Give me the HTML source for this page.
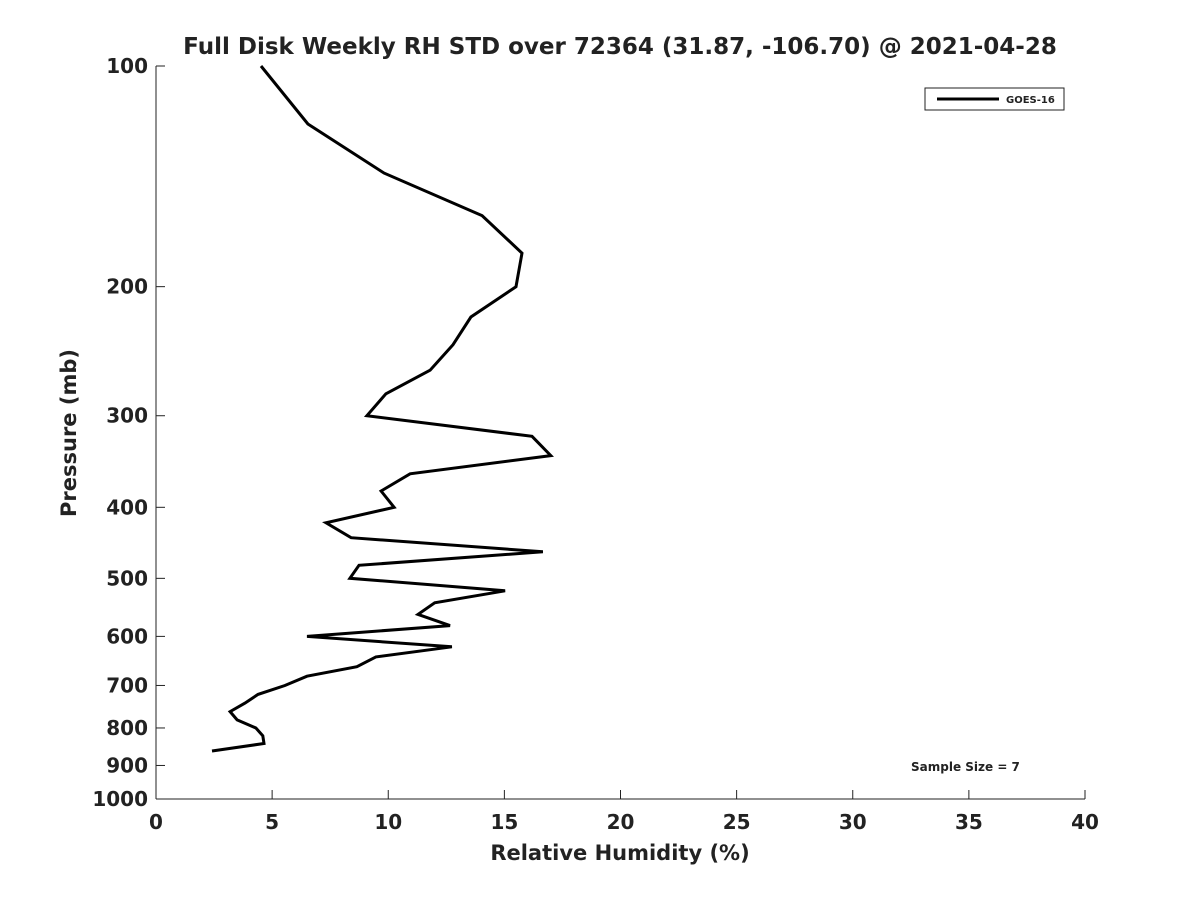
<!DOCTYPE html>
<html><head><meta charset="utf-8"><style>
html,body{margin:0;padding:0;background:#fff;}
svg text{font-family:"DejaVu Sans","Liberation Sans",sans-serif;font-weight:bold;fill:#222;}
</style></head><body>
<svg id="chart" width="1200" height="900" xmlns="http://www.w3.org/2000/svg">
<rect width="1200" height="900" fill="#fff"/>
<text x="620" y="54" text-anchor="middle" font-size="23" fill="#000">Full Disk Weekly RH STD over 72364 (31.87, -106.70) @ 2021-04-28</text>
<g id="axes"></g>
<text x="620" y="860" text-anchor="middle" font-size="21">Relative Humidity (%)</text>
<text transform="translate(76,433) rotate(-90)" text-anchor="middle" font-size="21">Pressure (mb)</text>
<g>
<rect x="925" y="88" width="139" height="22" fill="#fff" stroke="#222" stroke-width="1"/>
<line x1="937" y1="99" x2="999" y2="99" stroke="#000" stroke-width="3"/>
<text x="1006" y="103" font-size="10" fill="#000">GOES-16</text>
</g>
<text x="911" y="771" font-size="12" fill="#000">Sample Size = 7</text>
</svg>
<script>
const xTicks=[0,5,10,15,20,25,30,35,40];
const yTicks=[100,200,300,400,500,600,700,800,900,1000];
const pressures=[100,120,140,160,180,200,220,240,260,280,300,320,340,360,380,400,420,440,460,480,500,520,540,560,580,600,620,640,660,680,700,720,740,760,780,800,820,840,860];
const rhStd=[4.52,6.54,9.82,14.04,15.76,15.5,13.56,12.79,11.8,9.9,9.08,16.19,17.0,10.94,9.69,10.25,7.32,8.4,16.66,8.74,8.35,15.03,12.0,11.28,12.66,6.5,12.74,9.47,8.65,6.5,5.55,4.39,3.83,3.19,3.49,4.3,4.6,4.65,2.41];
const X0=156,X1=1085,Y0=66,Y1=799;
const xs=v=>X0+(v-0)/(40-0)*(X1-X0);
const ys=p=>Y0+Math.log10(p/100)*(Y1-Y0);
const NS="http://www.w3.org/2000/svg";
const g=document.getElementById('axes');
function mk(t,a){const e=document.createElementNS(NS,t);for(const k in a)e.setAttribute(k,a[k]);g.appendChild(e);return e;}
const xa=mk('line',{x1:X0,y1:Y1,x2:X1,y2:Y1,stroke:'#222','stroke-width':1});


const ya=mk('line',{x1:X0,y1:Y0,x2:X0,y2:Y1,stroke:'#222','stroke-width':1});


xTicks.forEach(v=>{
 mk('line',{x1:xs(v),y1:Y1,x2:xs(v),y2:Y1-9,stroke:'#222'});
 const t=mk('text',{x:xs(v),y:Y1+30,'text-anchor':'middle','font-size':20});
 t.textContent=v;
 
 
});
yTicks.forEach(p=>{
 mk('line',{x1:X0,y1:ys(p),x2:X0+9,y2:ys(p),stroke:'#222'});
 const t=mk('text',{x:X0-8,y:ys(p)+7,'text-anchor':'end','font-size':20});
 t.textContent=p;
 
 
});
const pts=pressures.map((p,i)=>xs(rhStd[i]).toFixed(1)+','+ys(p).toFixed(1)).join(' ');
const line=mk('polyline',{points:pts,fill:'none',stroke:'#000','stroke-width':3,'stroke-linejoin':'miter'});


</script>
</body></html>
